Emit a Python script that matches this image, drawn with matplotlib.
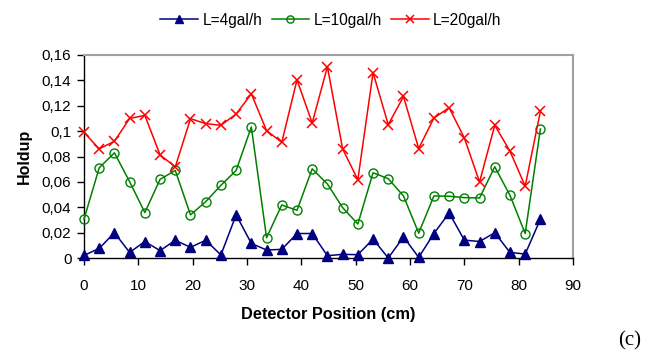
import matplotlib
matplotlib.use("Agg")
import matplotlib.pyplot as plt

positions = [0, 2.8, 5.6, 8.4, 11.2, 14, 16.8, 19.6, 22.4, 25.2, 28, 30.8, 33.6, 36.4,
             39.2, 42, 44.8, 47.6, 50.4, 53.2, 56, 58.8, 61.6, 64.4, 67.2, 70, 72.8,
             75.6, 78.4, 81.2, 84]
holdup_4 = [0.002, 0.0076, 0.0199, 0.0044, 0.013, 0.0058, 0.014, 0.0084, 0.014, 0.0024,
            0.034, 0.0115, 0.0063, 0.0068, 0.0193, 0.0193, 0.0018, 0.0029, 0.0026, 0.0149,
            0.0, 0.0167, 0.0005, 0.0193, 0.0355, 0.0141, 0.013, 0.0199, 0.0044, 0.0031, 0.0306]
holdup_10 = [0.0306, 0.0711, 0.0829, 0.0601, 0.0358, 0.062, 0.069, 0.034, 0.0444, 0.0573,
             0.069, 0.1033, 0.016, 0.0418, 0.0376, 0.0703, 0.0583, 0.0397, 0.0268, 0.0672,
             0.0625, 0.0489, 0.0196, 0.0489, 0.0487, 0.0476, 0.0473, 0.0719, 0.0494, 0.0193, 0.1017]
holdup_20 = [0.099, 0.086, 0.092, 0.110, 0.1124, 0.0813, 0.0718, 0.1098, 0.1059, 0.1046,
             0.1135, 0.1294, 0.1004, 0.0912, 0.1404, 0.1064, 0.1508, 0.086, 0.0617, 0.1461,
             0.1051, 0.1273, 0.0863, 0.1103, 0.1185, 0.0946, 0.0599, 0.1046, 0.0842, 0.0567, 0.1156]
series_labels = ["L=4gal/h", "L=10gal/h", "L=20gal/h"]
y_ticks = [0, 0.02, 0.04, 0.06, 0.08, 0.1, 0.12, 0.14, 0.16]
y_ticklabels = ["0", "0,02", "0,04", "0,06", "0,08", "0,1", "0,12", "0,14", "0,16"]
x_ticks = [0, 10, 20, 30, 40, 50, 60, 70, 80, 90]

plt.rcParams['font.family'] = ['Liberation Sans', 'DejaVu Sans']

fig = plt.figure(figsize=(6.5, 3.56), dpi=100)
ax = fig.add_axes([84/650, 1-258/356, (573-84)/650, (258-55)/356])

ax.plot(positions, holdup_4, color='#000080', marker='^', markersize=7, lw=1.1,
        markerfacecolor='#000080', markeredgecolor='#000080', label=series_labels[0], clip_on=False, zorder=3)
ax.plot(positions, holdup_10, color='#008000', marker='o', markersize=6.5, lw=1.1,
        markerfacecolor='none', markeredgecolor='#008000', markeredgewidth=1.0, label=series_labels[1], clip_on=False, zorder=3)
ax.plot(positions, holdup_20, color='#ff0000', marker='x', markersize=7, lw=1.1,
        markeredgewidth=1.1, label=series_labels[2], clip_on=False, zorder=3)

ax.set_xlim(0, 90)
ax.set_ylim(0, 0.16)
ax.set_xticks(x_ticks)
ax.set_yticks(y_ticks)
ax.set_yticklabels(y_ticklabels)
ax.tick_params(axis='both', direction='out', length=5, width=1, labelsize=11, colors='black', pad=4)
ax.tick_params(axis='x', pad=10)

for s in ['top', 'right']:
    ax.spines[s].set_color('#a0a0a0')
    ax.spines[s].set_linewidth(1.5)
for s in ['left', 'bottom']:
    ax.spines[s].set_color('black')
    ax.spines[s].set_linewidth(1.0)

ax.set_xlabel("Detector Position (cm)", fontsize=11.8, fontweight='bold', labelpad=10)
ax.set_ylabel("Holdup", fontsize=11.5, fontweight='bold', labelpad=7)

leg = fig.legend(loc='center', bbox_to_anchor=(331/650, 1-20/356), ncol=3, frameon=False,
                 fontsize=11.2, handlelength=2.4, handletextpad=0.3, columnspacing=0.6, markerscale=0.8)

fig.text(630/650, 1-341/356, "(c)", fontsize=15, family=['Liberation Serif', 'DejaVu Serif'],
         ha='center', va='center')

fig.savefig("out.png", dpi=100)
